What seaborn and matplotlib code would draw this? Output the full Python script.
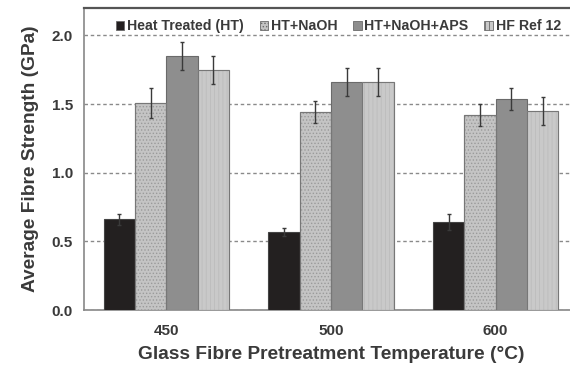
import matplotlib
matplotlib.use("Agg")
import matplotlib.pyplot as plt
import seaborn as sns
import pandas as pd
import numpy as np
from matplotlib.ticker import MultipleLocator, FixedLocator
from matplotlib.patches import Patch

temperatures = ["450", "500", "600"]
series = ["Heat Treated (HT)", "HT+NaOH", "HT+NaOH+APS", "HF Ref 12"]
ht_vals = [0.66, 0.57, 0.64]
naoh_vals = [1.51, 1.44, 1.42]
aps_vals = [1.85, 1.66, 1.54]
hf_vals = [1.75, 1.66, 1.45]
ht_err = [0.04, 0.03, 0.06]
naoh_err = [0.11, 0.08, 0.08]
aps_err = [0.10, 0.10, 0.08]
hf_err = [0.10, 0.10, 0.10]

values = [ht_vals, naoh_vals, aps_vals, hf_vals]
errors = [ht_err, naoh_err, aps_err, hf_err]

rows = []
for s, vals, errs in zip(series, values, errors):
    for t, v, e in zip(temperatures, vals, errs):
        rows.append({"Temperature": t, "Series": s, "Strength": v, "Err": e})
df = pd.DataFrame(rows)

sns.set_theme(style="white")
plt.rcParams["font.family"] = ["Liberation Sans", "DejaVu Sans"]
plt.rcParams["hatch.linewidth"] = 0.6

colors = ["#231f20", "#c4c4c4", "#8e8e8e", "#c9c9c9"]
hatches = ["", ".....", "", "||||"]
hatch_cols = [None, "#9a9a9a", None, "#bcbcbc"]
edge = "#6a6a6a"

fig = plt.figure(figsize=(5.7, 3.67), dpi=100)
ax = fig.add_axes([84 / 570, 57 / 367, 494 / 570, 302 / 367])

sns.barplot(data=df, x="Temperature", y="Strength", hue="Series",
            order=temperatures, hue_order=series, palette=colors,
            width=0.76, errorbar=None, ax=ax, legend=False,
            edgecolor=edge, linewidth=0.8, zorder=3)

bar_conts = list(ax.containers)
for i, cont in enumerate(bar_conts):
    for j, bar in enumerate(cont.patches):
        bar.set_hatch(hatches[i])
        if i == 0:
            bar.set_edgecolor("#444444")
        if hatches[i]:
            bar.set_edgecolor(hatch_cols[i])
            ax.add_patch(plt.Rectangle((bar.get_x(), 0), bar.get_width(),
                                       bar.get_height(), fill=False,
                                       edgecolor="#777777", linewidth=0.8,
                                       zorder=3.5))
        x = bar.get_x() + bar.get_width() / 2
        ax.errorbar(x, bar.get_height(), yerr=errors[i][j], fmt="none",
                    ecolor="#3a3a3a", elinewidth=1.0, capsize=1.5,
                    capthick=1.0, zorder=4)

ax.set_ylim(0, 2.2)
ax.set_xlim(-0.5, 2.5)
ax.yaxis.set_major_locator(FixedLocator([0.0, 0.5, 1.0, 1.5, 2.0]))
ax.yaxis.set_minor_locator(MultipleLocator(0.1))
ax.set_yticklabels(["0.0", "0.5", "1.0", "1.5", "2.0"])
ax.xaxis.set_minor_locator(FixedLocator([0.5, 1.5]))
ax.tick_params(axis="x", which="major", length=0, pad=10)
ax.tick_params(axis="x", which="minor", length=3, direction="in", color="#888888")
ax.tick_params(axis="y", which="major", length=4, direction="in", color="#888888", pad=8)
ax.tick_params(axis="y", which="minor", length=2, direction="in", color="#888888")
for lab in ax.get_xticklabels() + ax.get_yticklabels():
    lab.set_fontweight("bold")
    lab.set_fontsize(11)
    lab.set_color("#3a3a3a")

ax.grid(axis="y", which="major", linestyle=(0, (2.5, 2)), color="#8a8a8a",
        linewidth=1.0, zorder=0)
ax.set_axisbelow(True)

for side in ["left", "bottom"]:
    ax.spines[side].set_color("#888888")
    ax.spines[side].set_linewidth(1.2)
ax.spines["top"].set_color("#555555")
ax.spines["top"].set_linewidth(1.6)
ax.spines["right"].set_visible(False)

ax.set_xlabel("Glass Fibre Pretreatment Temperature (°C)", fontsize=13.8,
              fontweight="bold", color="#3a3a3a", labelpad=6)
ax.set_ylabel("Average Fibre Strength (GPa)", fontsize=13.8,
              fontweight="bold", color="#3a3a3a", labelpad=9)

handles = [Patch(facecolor=c, edgecolor=edge, hatch=h, linewidth=0.6)
           for c, h in zip(colors, hatches)]
leg = ax.legend(handles, series, loc="upper center", ncol=4, frameon=False,
                bbox_to_anchor=(0.515, 1.005), handlelength=0.6, handleheight=0.6,
                handletextpad=0.2, columnspacing=1.1,
                prop={"weight": "bold", "size": 10.2})
for t in leg.get_texts():
    t.set_color("#3a3a3a")

fig.savefig("out.png", dpi=100)
